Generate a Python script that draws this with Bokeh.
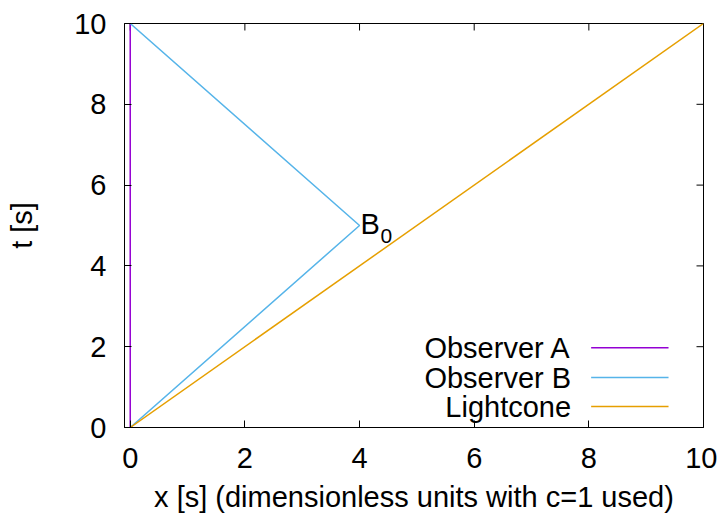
import math
from bokeh.plotting import figure
from bokeh.models import Range1d, FixedTicker, Label
from bokeh.embed import file_html
from bokeh.resources import INLINE

# ---- data ----
obs_a_x = [0, 0]
obs_a_t = [0, 10]
obs_b_x = [0, 4, 0]
obs_b_t = [0, 5, 10]
light_x = [0, 10]
light_t = [0, 10]
b0_point = (4, 5)
x_ticks = [0, 2, 4, 6, 8, 10]
y_ticks = [0, 2, 4, 6, 8, 10]
series_names = ["Observer A", "Observer B", "Lightcone"]
series_colors = ["#9400d3", "#56b4e9", "#e69f00"]

FONT = "Liberation Sans"
FS = "29px"
XMIN, XMAX, YMIN, YMAX = -0.1, 10, 0, 10

p = figure(width=717, height=515, output_backend="svg", toolbar_location=None,
           x_range=Range1d(XMIN, XMAX), y_range=Range1d(YMIN, YMAX),
           min_border_left=124, min_border_right=14, min_border_top=23, min_border_bottom=80)
p.background_fill_color = "white"
p.border_fill_color = "white"
p.outline_line_color = "black"
p.outline_line_width = 1
p.xgrid.visible = False
p.ygrid.visible = False

for ax, ticks in ((p.xaxis[0], x_ticks), (p.yaxis[0], y_ticks)):
    ax.ticker = FixedTicker(ticks=ticks)
    ax.axis_line_color = "black"
    ax.major_tick_in = 7
    ax.major_tick_out = 0
    ax.major_tick_line_color = "black"
    ax.minor_tick_line_color = None
    ax.major_label_text_font = FONT
    ax.major_label_text_font_size = FS
    ax.major_label_text_color = "black"
    ax.axis_label_text_font = FONT
    ax.axis_label_text_font_size = FS
    ax.axis_label_text_font_style = "normal"
    ax.axis_label_text_color = "black"

p.xaxis[0].major_label_standoff = 20
p.xaxis[0].axis_label = "x [s] (dimensionless units with c=1 used)"
p.xaxis[0].axis_label_standoff = 10
p.yaxis[0].major_label_standoff = 18
p.yaxis[0].axis_label = "t [s]"
p.yaxis[0].axis_label_standoff = 33

# mirrored inward ticks on top and right edges (dash markers clipped by the frame)
p.scatter(x_ticks, [YMAX] * len(x_ticks), marker="dash", angle=math.pi / 2, size=14,
          line_color="black", line_width=1)
p.scatter([XMAX] * len(y_ticks), y_ticks, marker="dash", size=14,
          line_color="black", line_width=1)

p.line(obs_a_x, obs_a_t, line_color=series_colors[0], line_width=1.5)
p.line(obs_b_x, obs_b_t, line_color=series_colors[1], line_width=1.5)
p.line(light_x, light_t, line_color=series_colors[2], line_width=1.5)

# B_0 label
p.add_layout(Label(x=b0_point[0], y=b0_point[1], text="B", text_font=FONT, text_font_size=FS,
                   text_color="black", text_align="left", text_baseline="middle",
                   x_offset=1, y_offset=2))
p.add_layout(Label(x=b0_point[0], y=b0_point[1], text="0", text_font=FONT, text_font_size="21px",
                   text_color="black", text_align="left", text_baseline="middle",
                   x_offset=21, y_offset=-10))

# gnuplot-style key (text left, sample right)
leg_rows_y = [1.975, 1.235, 0.519]
leg_text_x = 7.69
leg_line_x0 = 8.04
leg_line_x1 = 9.39
for name, col, yy in zip(series_names, series_colors, leg_rows_y):
    p.add_layout(Label(x=leg_text_x, y=yy, text=name, text_font=FONT, text_font_size=FS,
                       text_color="black", text_align="right", text_baseline="middle"))
    p.line([leg_line_x0, leg_line_x1], [yy, yy], line_color=col, line_width=1.5)

open("out.html", "w").write(file_html(p, INLINE))
